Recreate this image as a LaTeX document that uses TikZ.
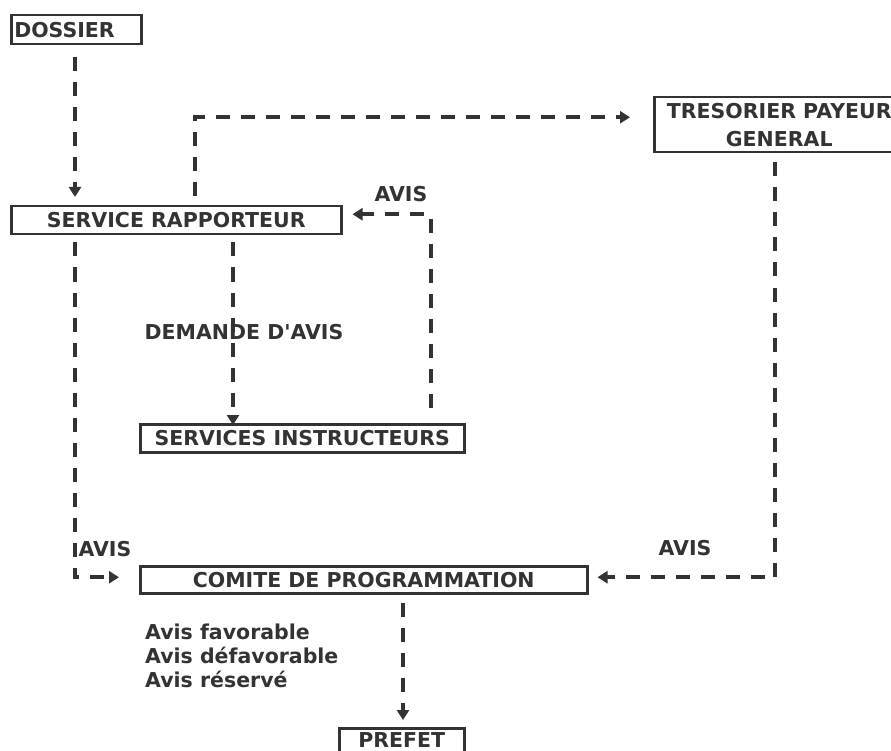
\documentclass[tikz,border=0pt]{standalone}
\usepackage{fontspec}
\setmainfont{DejaVu Sans}
\usepackage{xcolor}
\usetikzlibrary{arrows.meta,positioning}

\definecolor{inkgray}{HTML}{333333}

\begin{document}
\begin{tikzpicture}[
  x=1pt, y=-1pt,
  box/.style={rectangle, draw=inkgray, line width=2.5pt, inner sep=0pt, anchor=north west, align=center, text=inkgray, font=\fontsize{20.5}{28}\selectfont\bfseries},
  flow/.style={-{Triangle[length=10pt,width=12pt]}, draw=inkgray, line width=4pt, dash pattern=on 14pt off 11pt},
  lbl/.style={text=inkgray, inner sep=0pt, font=\fontsize{20.5}{24}\selectfont\bfseries}
]
  \clip (0,0) rectangle (891,751);

  \node[box, minimum width=130pt, minimum height=29pt, text width=124pt, align=left] (dossier) at (10,14) {DOSSIER};
  \node[box, minimum width=330pt, minimum height=28pt] (rapporteur) at (10,205) {SERVICE RAPPORTEUR};
  \node[box, minimum width=250pt, minimum height=55pt] (tresorier) at (653,96) {TRESORIER PAYEUR\\GENERAL};
  \node[box, minimum width=324pt, minimum height=28pt] (instructeurs) at (139,423) {SERVICES INSTRUCTEURS};
  \node[box, minimum width=447pt, minimum height=27pt] (comite) at (139,565) {COMITE DE PROGRAMMATION};
  \node[box, minimum width=125pt, text height=19pt, text depth=21pt] (prefet) at (338,727) {PREFET};

  \node[lbl] (avishaut) at (401,194) {AVIS};
  \node[lbl] (demande) at (244,332) {DEMANDE D\textquotesingle AVIS};
  \node[lbl] (avisgauche) at (105,549) {AVIS};
  \node[lbl] (avisdroite) at (685,548) {AVIS};
  \node[lbl, anchor=north west, align=left] (decisions) at (145,624) {Avis favorable\\Avis défavorable\\Avis réservé};

  \draw[flow] ([xshift=65pt,yshift=-12pt]dossier.south west) -- ([xshift=65pt,yshift=8pt]rapporteur.north west);
  \draw[flow] ([xshift=185pt,yshift=9pt]rapporteur.north west) |- ([xshift=-23pt,yshift=7.5pt]tresorier.west);
  \draw[flow] ([xshift=122pt,yshift=-9pt]tresorier.south west) |- ([xshift=9pt,yshift=2.5pt]comite.east);
  \draw[flow] ([xshift=-35pt,yshift=15pt]instructeurs.north east) |- ([xshift=10pt,yshift=6pt]rapporteur.east);
  \draw[flow] ([xshift=223pt,yshift=-7pt]rapporteur.south west) -- ([xshift=94pt,yshift=-2pt]instructeurs.north west);
  \draw[flow] ([xshift=65pt,yshift=-7pt]rapporteur.south west) |- ([xshift=-20pt,yshift=2.5pt]comite.west);
  \draw[flow] ([xshift=264pt,yshift=-8pt]comite.south west) -- ([xshift=65pt,yshift=7pt]prefet.north west);
\end{tikzpicture}
\end{document}
